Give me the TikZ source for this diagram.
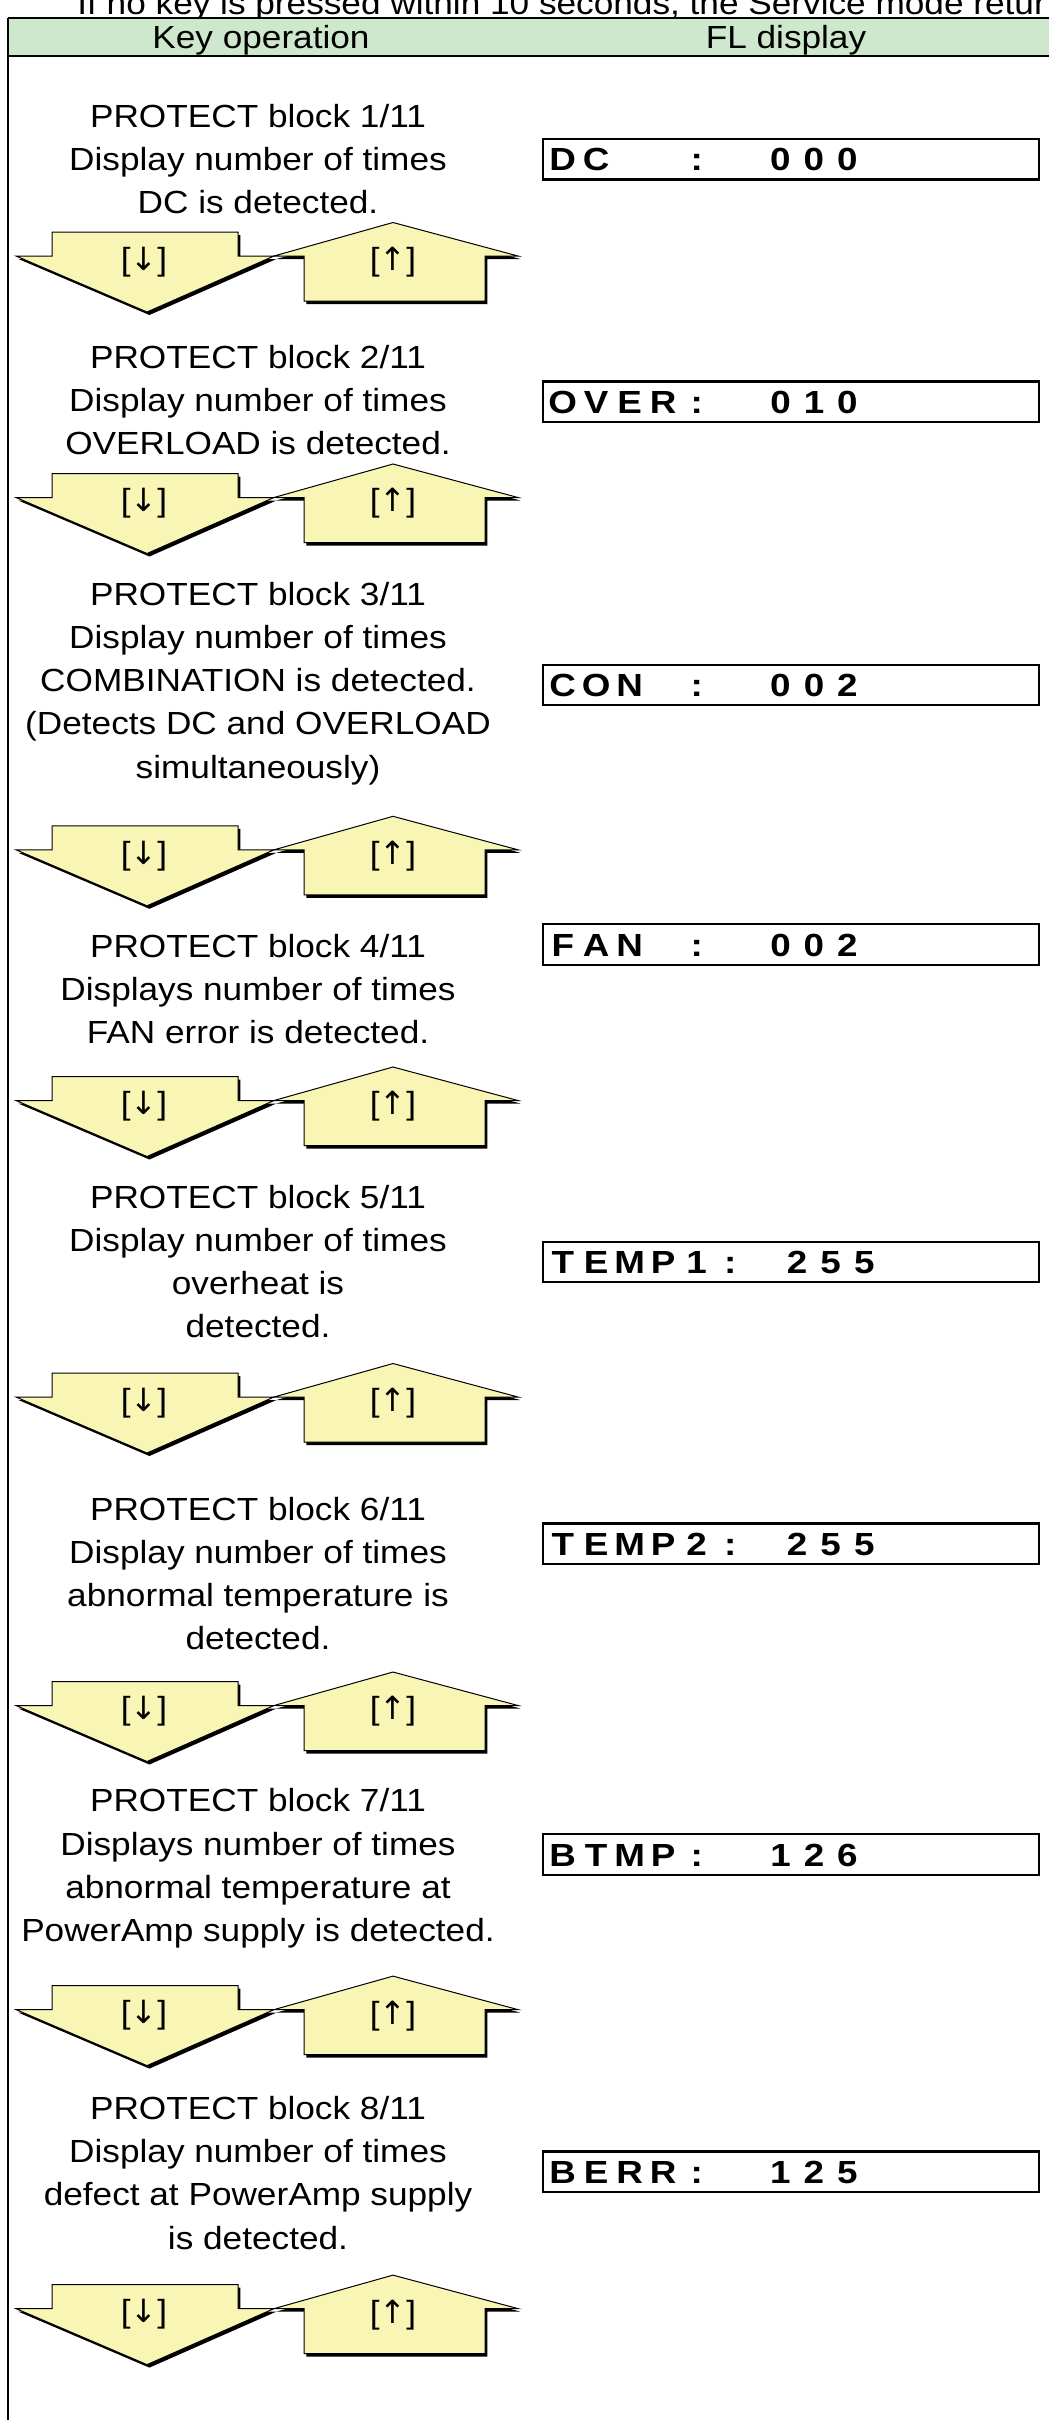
\documentclass[tikz,border=0pt]{standalone}
\usepackage{fontspec}
\setmainfont{Liberation Sans}[FakeStretch=1.1]
\newfontfamily\lcdfont{Liberation Sans}[FakeStretch=1.15]
\newfontfamily\arrowfont{DejaVu Sans}
\usetikzlibrary{shadows}
\definecolor{headgreen}{RGB}{205,232,205}
\definecolor{keyyellow}{RGB}{249,245,180}

% fixed-pitch cells for the FL display texts (| = half cell)
\newcommand\lcdcell[1]{\makebox[16.75pt][c]{#1}}
\def\lcdtext#1{\lcdloop#1\relax}
\def\lcdloop#1{%
  \ifx#1\relax
  \else
    \ifx#1|\hspace*{8.375pt}\else\lcdcell{#1}\fi
    \expandafter\lcdloop
  \fi}

\begin{document}
\begin{tikzpicture}[x=0.5pt, y=-0.5pt,
    keytext/.style={align=center, inner sep=0pt, font=\fontsize{16}{21.6}\selectfont},
    head/.style={inner sep=0pt, font=\fontsize{16}{19}\selectfont},
    flbox/.style={draw=black, line width=1.2pt, minimum height=20.25pt, text width=245pt, inner xsep=1.6pt, inner ysep=0pt, text height=11.5pt, text depth=0pt, align=left, font=\lcdfont\bfseries\fontsize{16}{19}\selectfont},
    keyarrow/.style={fill=keyyellow, draw=black, line width=0.5pt, line join=miter, drop shadow={shadow xshift=1.2pt, shadow yshift=-1.5pt, opacity=1, fill=black}},
    keylabel/.style={inner sep=0pt, font=\fontsize{16}{19}\selectfont}
]
\useasboundingbox (0,0) rectangle (1049,2420);
\clip (0,0) rectangle (1049,2420);

% header
\node[head, anchor=base west] (note) at (77,14) {If no key is pressed within 10 seconds, the Service mode retur};
\fill[headgreen] (8,18) rectangle (1049,56);
\draw[line width=1pt] (8,18) -- (1049,18);
\draw[line width=1pt] (8,56) -- (1049,56);
\draw[line width=1pt] (8,18) -- (8,2420);
\node[head, anchor=base] (keyop) at (261,48) {Key operation};
\node[head, anchor=base] (fldisp) at (786,48) {FL display};

% key operation texts
\node[keytext] (blk1) at (258,159.1) {PROTECT block 1/11\\Display number of times\\DC is detected.};
\node[keytext] (blk2) at (258,400.3) {PROTECT block 2/11\\Display number of times\\OVERLOAD is detected.};
\node[keytext] (blk3) at (258,683.5) {PROTECT block 3/11\\Display number of times\\COMBINATION is detected.\\(Detects DC and OVERLOAD\\simultaneously)};
\node[keytext] (blk4) at (258,988.9) {PROTECT block 4/11\\Displays number of times\\FAN error is detected.};
\node[keytext] (blk5) at (258,1261.5) {PROTECT block 5/11\\Display number of times\\overheat is\\detected.};
\node[keytext] (blk6) at (258,1573.6) {PROTECT block 6/11\\Display number of times\\abnormal temperature is\\detected.};
\node[keytext] (blk7) at (258,1868.4) {PROTECT block 7/11\\Displays number of times\\abnormal temperature at\\PowerAmp supply is detected.};
\node[keytext] (blk8) at (258,2172.9) {PROTECT block 8/11\\Display number of times\\defect at PowerAmp supply\\is detected.};

% FL displays
\node[flbox] (fl1) at (791,159.2) {\lcdtext{DC~~:~|000}};
\node[flbox] (fl2) at (791,401.8) {\lcdtext{OVER:~|010}};
\node[flbox] (fl3) at (791,685) {\lcdtext{CON~:~|002}};
\node[flbox] (fl4) at (791,944.5) {\lcdtext{FAN~:~|002}};
\node[flbox] (fl5) at (791,1262) {\lcdtext{TEMP1:~255}};
\node[flbox] (fl6) at (791,1543.7) {\lcdtext{TEMP2:~255}};
\node[flbox] (fl7) at (791,1854.5) {\lcdtext{BTMP:~|126}};
\node[flbox] (fl8) at (791,2171.8) {\lcdtext{BERR:~|125}};

% down / up keys
\foreach \ly [count=\i] in {262,503.5,855.8,1106.5,1403,1711.5,2015.6,2314.6} {
  \path[keyarrow] (52,\ly-30) -- (238,\ly-30) -- (238,\ly-6) -- (274,\ly-6) -- (147,\ly+50) -- (16,\ly-6) -- (52,\ly-6) -- cycle;
  \path[keyarrow] (304,\ly+39) -- (485,\ly+39) -- (485,\ly-6) -- (518,\ly-6) -- (393,\ly-39.5) -- (274,\ly-6) -- (304,\ly-6) -- cycle;
  \node[keylabel] (down\i) at (144,\ly) {[{\arrowfont ↓}]};
  \node[keylabel] (up\i) at (393,\ly) {[{\arrowfont ↑}]};
}

\end{tikzpicture}
\end{document}
